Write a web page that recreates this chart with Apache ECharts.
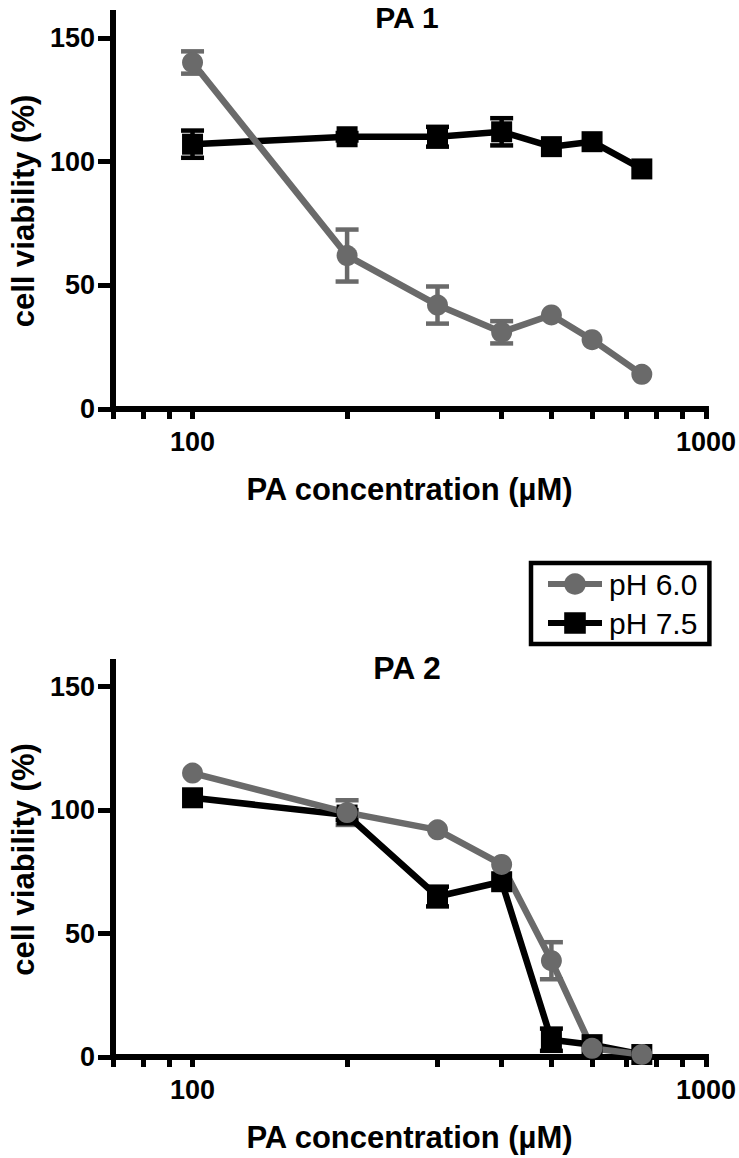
<!DOCTYPE html>
<html>
<head>
<meta charset="utf-8">
<script src="https://cdn.jsdelivr.net/npm/echarts@6/dist/echarts.min.js"></script>
<style>
html,body{margin:0;padding:0;background:#fff;}
#chart{width:739px;height:1158px;}
</style>
</head>
<body>
<div id="chart"></div>
<script>
// ---- data ----
const concentrations = [100, 200, 300, 400, 500, 600, 750];
const seriesNames = ['pH 6.0', 'pH 7.5'];
const panelTitles = ['PA 1', 'PA 2'];
const pa1_pH60 = [140, 62, 42, 31, 38, 28, 14];
const pa1_pH60_err = [4.5, 10.5, 7.5, 4.5, 0, 0, 0];
const pa1_pH75 = [107, 110, 110, 112, 106, 108, 97];
const pa1_pH75_err = [5.5, 1.5, 4, 5.5, 0, 0, 0];
const pa2_pH60 = [115, 99, 92, 78, 39, 3.5, 1];
const pa2_pH60_err = [0, 5, 0, 0, 7.5, 0, 0];
const pa2_pH75 = [105, 98, 65, 71, 7, 5, 1];
const pa2_pH75_err = [0, 2, 4, 0, 4.5, 0, 0];
const xTickValues = [70, 80, 90, 100, 200, 300, 400, 500, 600, 700, 800, 900, 1000];
const xLabelValues = [100, 1000];
const yTickValues = [0, 50, 100, 150];
const xAxisTitle = 'PA concentration (µM)';
const yAxisTitle = 'cell viability (%)';

// ---- styling ----
const FONT = "'Liberation Sans', Arial, Helvetica, sans-serif";
const GRAY = '#6a6a6a';
const BLACK = '#000000';

function pairs(xs, ys) { return xs.map((x, i) => [x, ys[i]]); }
function errPairs(xs, ys, es) {
  return xs.map((x, i) => [x, ys[i] - es[i], ys[i] + es[i]]).filter((d, i) => es[i] > 0);
}

function makeErrSeries(name, data, color, gi) {
  return {
    type: 'custom', name: name, xAxisIndex: gi, yAxisIndex: gi,
    data: data, silent: true,
    renderItem: function (params, api) {
      const x = api.value(0);
      const lo = api.coord([x, api.value(1)]);
      const hi = api.coord([x, api.value(2)]);
      const hw = 11.5;
      const st = { stroke: color, lineWidth: 4.5 };
      return {
        type: 'group', children: [
          { type: 'line', shape: { x1: lo[0], y1: lo[1], x2: hi[0], y2: hi[1] }, style: st },
          { type: 'line', shape: { x1: lo[0] - hw, y1: lo[1], x2: lo[0] + hw, y2: lo[1] }, style: st },
          { type: 'line', shape: { x1: hi[0] - hw, y1: hi[1], x2: hi[0] + hw, y2: hi[1] }, style: st }
        ]
      };
    }
  };
}

function lineSeries(name, data, color, symbol, gi) {
  return {
    type: 'line', name: name, xAxisIndex: gi, yAxisIndex: gi,
    data: data, symbol: symbol, symbolSize: 21, showAllSymbol: true,
    lineStyle: { color: color, width: 6.5 },
    itemStyle: { color: color },
    emphasis: { disabled: true }, animation: false, clip: false
  };
}

const grids = [
  { left: 108, width: 599, top: 13, height: 396 },
  { left: 108, width: 599, top: 662, height: 395 }
];

function xAxisFor(gi) {
  return {
    type: 'log', gridIndex: gi, min: 70, max: 1000, logBase: 10,
    name: xAxisTitle, nameLocation: 'middle', nameGap: 65,
    nameTextStyle: { fontFamily: FONT, fontWeight: 'bold', fontSize: 31, color: BLACK },
    axisLine: { show: true, onZero: false, lineStyle: { color: BLACK, width: 6, cap: 'square' } },
    axisTick: { show: true, inside: false, length: 10, customValues: xTickValues, lineStyle: { color: BLACK, width: 5 } },
    minorTick: { show: false },
    axisLabel: { customValues: xLabelValues, margin: 19, fontFamily: FONT, fontWeight: 'bold', fontSize: 27, color: BLACK,
      formatter: function (v) { return String(Math.round(v)); } },
    splitLine: { show: false }
  };
}
function yAxisFor(gi) {
  return {
    type: 'value', gridIndex: gi, min: 0, max: 160, interval: 50,
    name: yAxisTitle, nameLocation: 'middle', nameGap: 74, nameRotate: 90,
    nameTextStyle: { fontFamily: FONT, fontWeight: 'bold', fontSize: 31, color: BLACK },
    axisLine: { show: true, lineStyle: { color: BLACK, width: 6, cap: 'square' } },
    axisTick: { show: true, inside: false, length: 15, customValues: yTickValues, lineStyle: { color: BLACK, width: 5 } },
    axisLabel: { customValues: yTickValues, margin: 18, fontFamily: FONT, fontWeight: 'bold', fontSize: 27, color: BLACK },
    splitLine: { show: false }
  };
}

const option = {
  animation: false,
  backgroundColor: '#ffffff',
  grid: grids,
  xAxis: [xAxisFor(0), xAxisFor(1)],
  yAxis: [yAxisFor(0), yAxisFor(1)],
  title: [
    { text: panelTitles[0], left: 407, top: 2, textAlign: 'center', padding: 0,
      textStyle: { fontFamily: FONT, fontWeight: 'bold', fontSize: 30, lineHeight: 30, color: BLACK } },
    { text: panelTitles[1], left: 407, top: 652, textAlign: 'center', padding: 0,
      textStyle: { fontFamily: FONT, fontWeight: 'bold', fontSize: 32, color: BLACK } }
  ],
  legend: {
    data: seriesNames, orient: 'vertical', left: 531, top: 563,
    selectedMode: false,
    borderColor: BLACK, borderWidth: 4.5, borderRadius: 0,
    padding: [6, 12, 6, 14], itemGap: 9,
    itemWidth: 54, itemHeight: 27,
    lineStyle: { width: 6 },
    textStyle: { fontFamily: FONT, fontSize: 30, color: BLACK, padding: [0, 0, 0, 2] }
  },
  series: [
    lineSeries(seriesNames[1], pairs(concentrations, pa1_pH75), BLACK, 'rect', 0),
    makeErrSeries(seriesNames[1], errPairs(concentrations, pa1_pH75, pa1_pH75_err), BLACK, 0),
    lineSeries(seriesNames[0], pairs(concentrations, pa1_pH60), GRAY, 'circle', 0),
    makeErrSeries(seriesNames[0], errPairs(concentrations, pa1_pH60, pa1_pH60_err), GRAY, 0),
    lineSeries(seriesNames[1], pairs(concentrations, pa2_pH75), BLACK, 'rect', 1),
    makeErrSeries(seriesNames[1], errPairs(concentrations, pa2_pH75, pa2_pH75_err), BLACK, 1),
    lineSeries(seriesNames[0], pairs(concentrations, pa2_pH60), GRAY, 'circle', 1),
    makeErrSeries(seriesNames[0], errPairs(concentrations, pa2_pH60, pa2_pH60_err), GRAY, 1)
  ]
};

const chart = echarts.init(document.getElementById('chart'), null, { renderer: 'svg', width: 739, height: 1158 });
chart.setOption(option);
</script>
</body>
</html>
